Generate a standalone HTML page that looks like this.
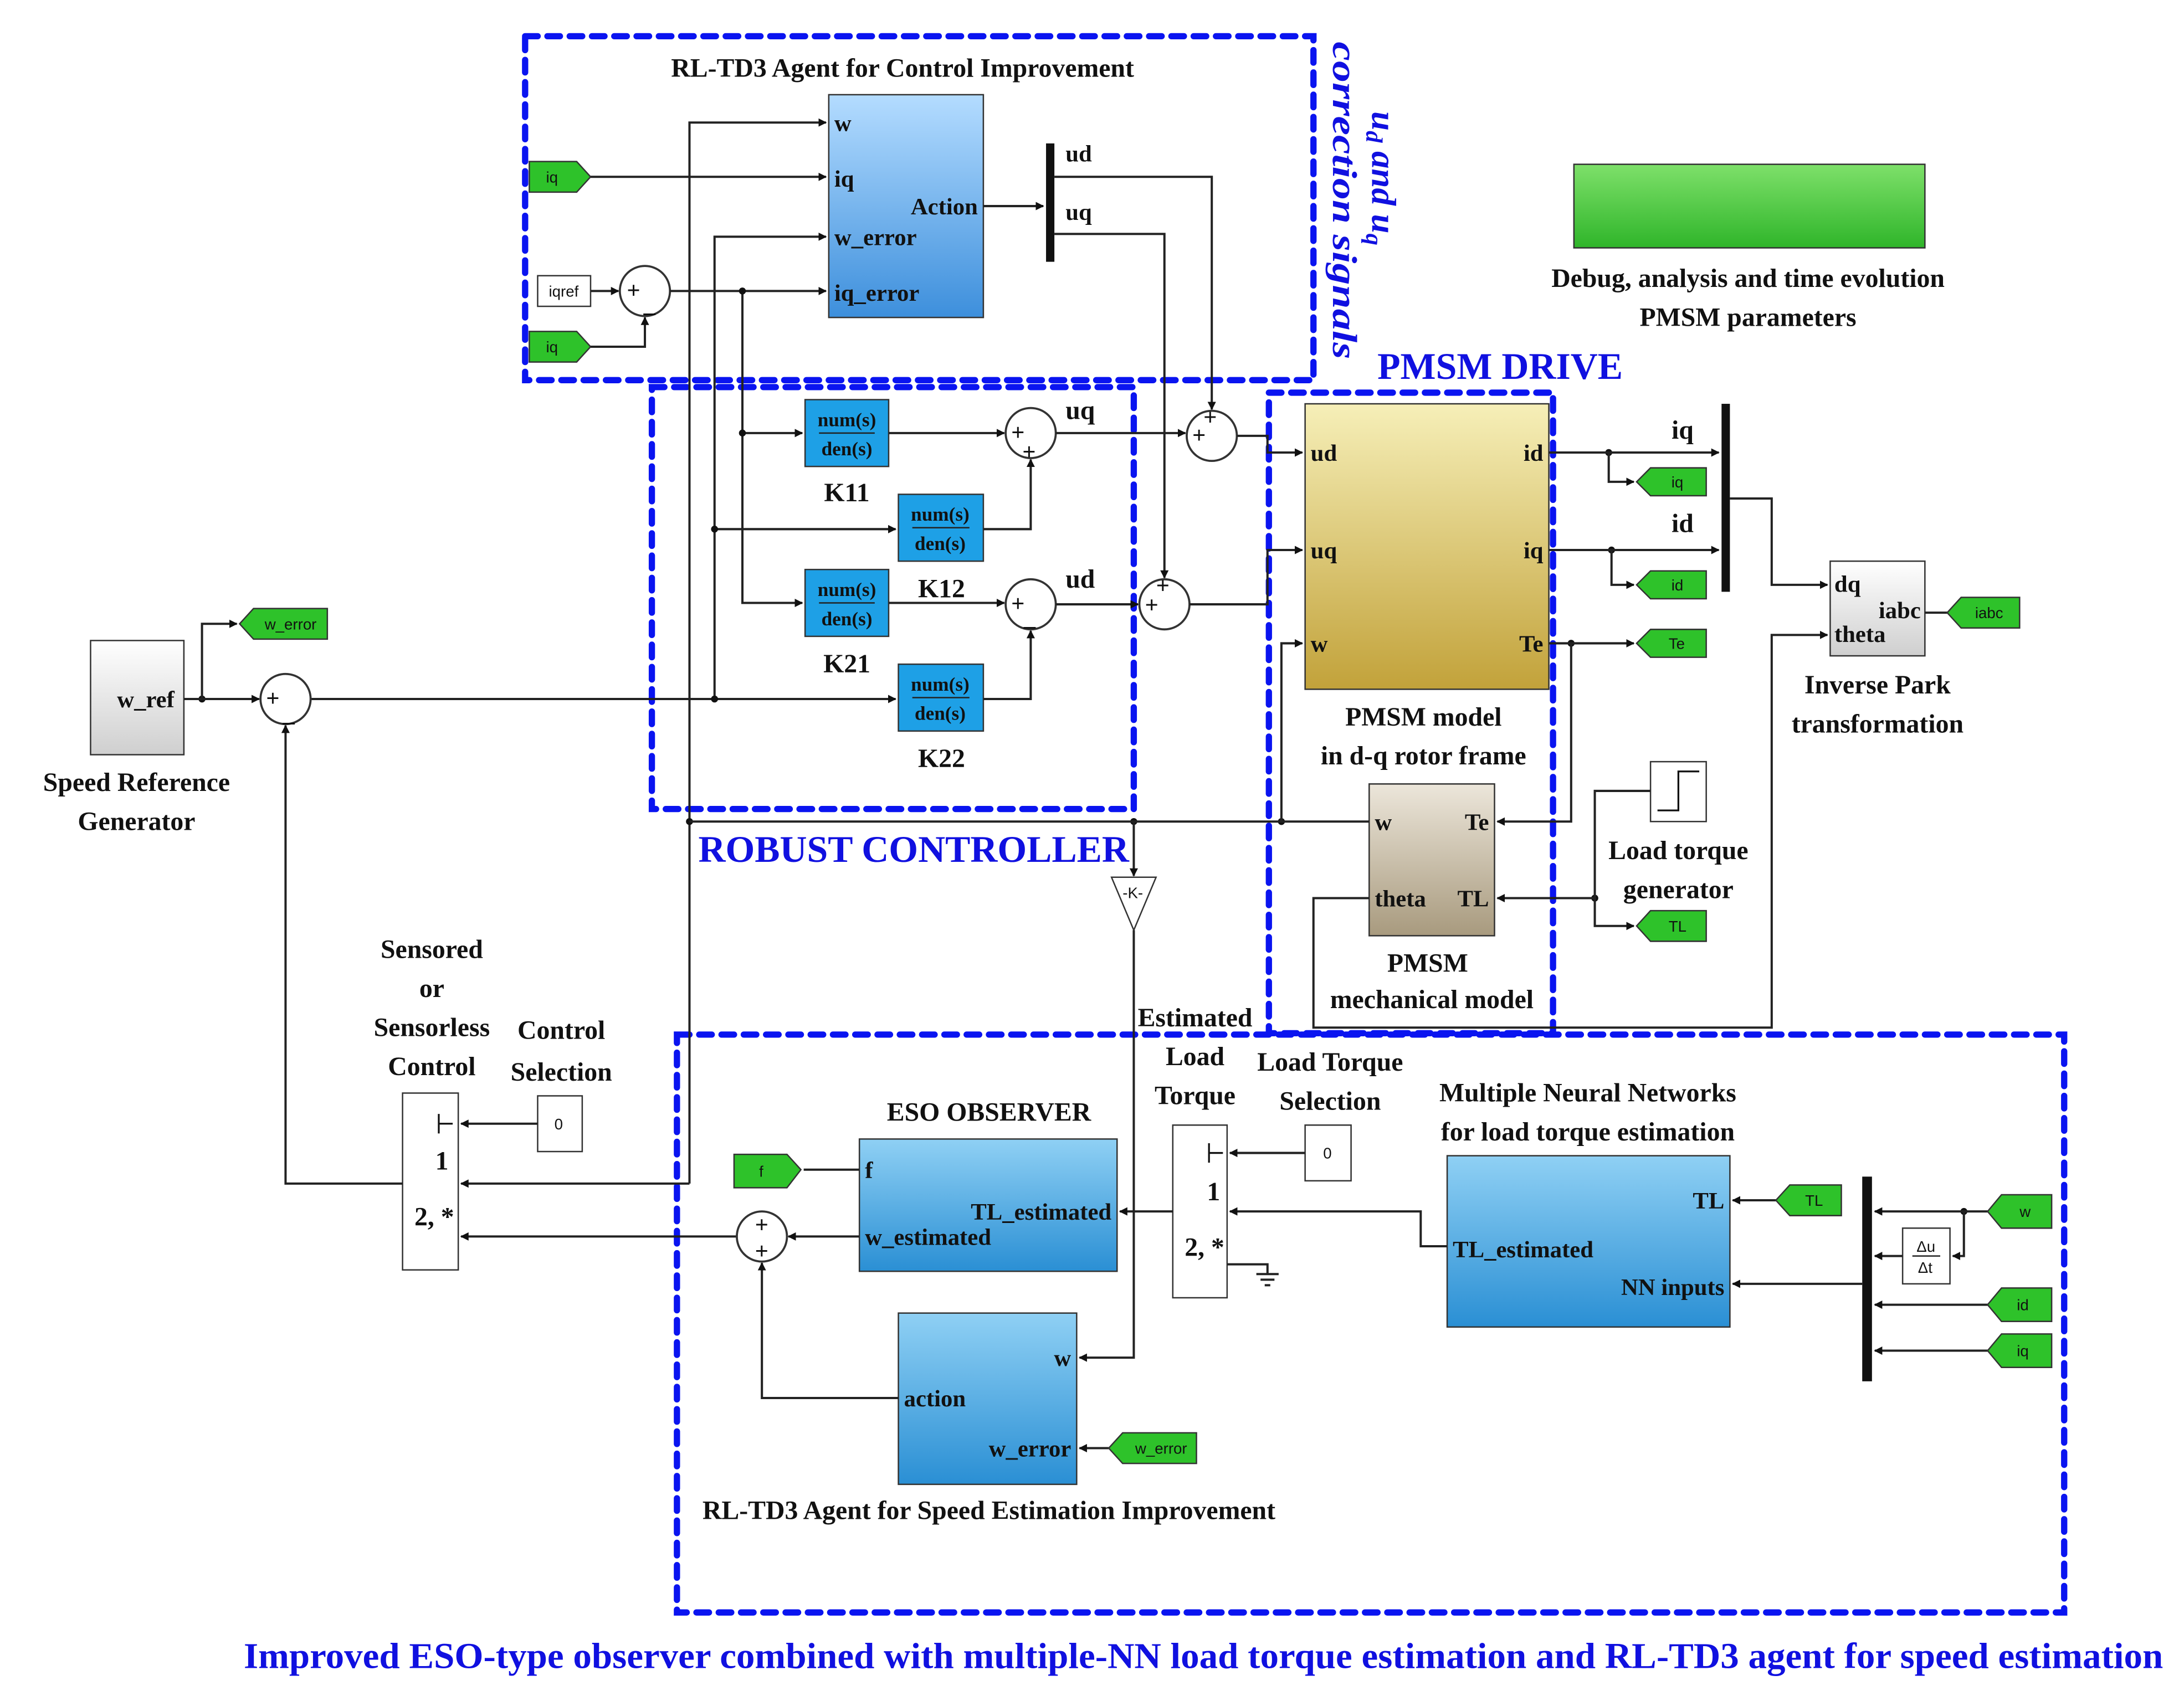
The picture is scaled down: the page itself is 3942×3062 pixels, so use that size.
<!DOCTYPE html>
<html><head><meta charset="utf-8"><style>
html,body{margin:0;padding:0;background:#fff;}
svg{display:block;}
text{font-family:"Liberation Serif",serif;font-weight:bold;}
.t{font-size:19px;fill:#111;}
.p{font-size:17px;fill:#111;}
.tag{font-family:"Liberation Sans",sans-serif;font-weight:normal;font-size:11px;fill:#111;}
.blue{fill:#1010e0;}
.ln{stroke:#222;stroke-width:1.6;fill:none;}
.ar{stroke:#222;stroke-width:1.6;fill:none;marker-end:url(#a);}
.dash{stroke:#0a14f0;stroke-width:4.5;fill:none;stroke-dasharray:9 7;stroke-linecap:round;}
</style></head><body>
<svg width="3942" height="3062" viewBox="0 0 1568 1218" xmlns="http://www.w3.org/2000/svg">
<defs>
<marker id="a" viewBox="0 0 10 10" refX="9" refY="5" markerWidth="6" markerHeight="6" orient="auto" markerUnits="userSpaceOnUse"><path d="M0,0L10,5L0,10z" fill="#111"/></marker>
<linearGradient id="gb" x1="0" y1="0" x2="0" y2="1"><stop offset="0" stop-color="#b4dcff"/><stop offset="1" stop-color="#3d8fdc"/></linearGradient>
<linearGradient id="gb2" x1="0" y1="0" x2="0" y2="1"><stop offset="0" stop-color="#8fd0f4"/><stop offset="1" stop-color="#2a8fd4"/></linearGradient>
<linearGradient id="gg" x1="0" y1="0" x2="0" y2="1"><stop offset="0" stop-color="#f6efb8"/><stop offset="1" stop-color="#c2a23a"/></linearGradient>
<linearGradient id="gm" x1="0" y1="0" x2="0" y2="1"><stop offset="0" stop-color="#ece6da"/><stop offset="1" stop-color="#a89a7e"/></linearGradient>
<linearGradient id="gs" x1="0" y1="0" x2="0" y2="1"><stop offset="0" stop-color="#ffffff"/><stop offset="1" stop-color="#cfcfcf"/></linearGradient>
<linearGradient id="ggreen" x1="0" y1="0" x2="0" y2="1"><stop offset="0" stop-color="#7ee06a"/><stop offset="1" stop-color="#2fb52a"/></linearGradient>
</defs>

<rect class="dash" x="377" y="26" width="566" height="247"/>
<rect class="dash" x="468" y="278" width="346" height="303"/>
<rect class="dash" x="911" y="282" width="204" height="460"/>
<rect class="dash" x="486" y="743" width="996" height="415"/>

<text class="t" x="648" y="55" text-anchor="middle">RL-TD3 Agent for Control Improvement</text>
<text class="blue" x="0" y="0" font-size="25" font-style="italic" transform="translate(985,80) rotate(90)">u<tspan font-size="17" dy="4">d</tspan><tspan dy="-4"> and u</tspan><tspan font-size="17" dy="4">q</tspan></text>
<text class="blue" x="0" y="0" font-size="25" font-style="italic" transform="translate(957,30) rotate(90)" textLength="228" lengthAdjust="spacingAndGlyphs">correction signals</text>
<text class="blue" x="1077" y="272" font-size="27" text-anchor="middle">PMSM DRIVE</text>
<text class="blue" x="656" y="619" font-size="27" text-anchor="middle">ROBUST CONTROLLER</text>
<text class="blue" x="175" y="1198" font-size="26" textLength="1378" lengthAdjust="spacingAndGlyphs">Improved ESO-type observer combined with multiple-NN load torque estimation and RL-TD3 agent for speed estimation</text>

<rect x="1130" y="118" width="252" height="60" fill="url(#ggreen)" stroke="#333"/>
<text class="t" x="1255" y="206" text-anchor="middle">Debug, analysis and time evolution</text>
<text class="t" x="1255" y="234" text-anchor="middle">PMSM parameters</text>

<rect x="595" y="68" width="111" height="160" fill="url(#gb)" stroke="#333"/>
<text class="p" x="599" y="94">w</text><text class="p" x="599" y="134">iq</text>
<text class="p" x="599" y="176">w_error</text><text class="p" x="599" y="216">iq_error</text>
<text class="p" x="702" y="154" text-anchor="end">Action</text>
<rect x="751" y="103" width="6" height="85" fill="#111"/>
<text class="p" x="765" y="116">ud</text><text class="p" x="765" y="158">uq</text>

<path d="M380,116h34l10,11l-10,11h-34z" fill="#2ec22a" stroke="#333"/><text class="tag" x="392" y="131">iq</text>
<path d="M380,238h34l10,11l-10,11h-34z" fill="#2ec22a" stroke="#333"/><text class="tag" x="392" y="253">iq</text>
<rect x="386" y="198" width="38" height="22" fill="#fff" stroke="#333"/><text class="tag" x="394" y="213">iqref</text>
<circle cx="463" cy="209" r="18" fill="#fff" stroke="#333" stroke-width="1.5"/><text class="p" x="450" y="214">+</text><text class="p" x="462" y="224">_</text>

<path class="ar" d="M424,127H593"/>
<path class="ar" d="M424,209H444"/>
<path class="ar" d="M424,249H463V228"/>
<path class="ar" d="M481,209H593"/>
<path class="ar" d="M495,850V88H593"/>
<path class="ar" d="M706,148H749"/>
<path class="ar" d="M757,127H870V294"/>
<path class="ar" d="M757,168H836V415"/>

<g>
<rect x="578" y="287" width="60" height="48" fill="#1ea0e6" stroke="#333"/>
<rect x="645" y="355" width="61" height="48" fill="#1ea0e6" stroke="#333"/>
<rect x="578" y="409" width="60" height="48" fill="#1ea0e6" stroke="#333"/>
<rect x="645" y="477" width="61" height="48" fill="#1ea0e6" stroke="#333"/>
<g class="p">
<text x="608" y="306" text-anchor="middle" font-size="14">num(s)</text><line x1="588" y1="311" x2="628" y2="311" stroke="#222"/><text x="608" y="327" text-anchor="middle" font-size="14">den(s)</text>
<text x="675" y="374" text-anchor="middle" font-size="14">num(s)</text><line x1="655" y1="379" x2="696" y2="379" stroke="#222"/><text x="675" y="395" text-anchor="middle" font-size="14">den(s)</text>
<text x="608" y="428" text-anchor="middle" font-size="14">num(s)</text><line x1="588" y1="433" x2="628" y2="433" stroke="#222"/><text x="608" y="449" text-anchor="middle" font-size="14">den(s)</text>
<text x="675" y="496" text-anchor="middle" font-size="14">num(s)</text><line x1="655" y1="501" x2="696" y2="501" stroke="#222"/><text x="675" y="517" text-anchor="middle" font-size="14">den(s)</text>
</g>
<text class="t" x="608" y="360" text-anchor="middle">K11</text>
<text class="t" x="676" y="429" text-anchor="middle">K12</text>
<text class="t" x="608" y="483" text-anchor="middle">K21</text>
<text class="t" x="676" y="551" text-anchor="middle">K22</text>
</g>
<circle cx="740" cy="311" r="18" fill="#fff" stroke="#333" stroke-width="1.5"/><text class="p" x="726" y="316">+</text><text class="p" x="734" y="330">+</text>
<circle cx="740" cy="434" r="18" fill="#fff" stroke="#333" stroke-width="1.5"/><text class="p" x="726" y="439">+</text><text class="p" x="735" y="449">_</text>
<circle cx="870" cy="313" r="18" fill="#fff" stroke="#333" stroke-width="1.5"/><text class="p" x="856" y="318">+</text><text class="p" x="864" y="305">+</text>
<circle cx="836" cy="434" r="18" fill="#fff" stroke="#333" stroke-width="1.5"/><text class="p" x="822" y="440">+</text><text class="p" x="830" y="426">+</text>
<text class="t" x="765" y="301">uq</text><text class="t" x="765" y="422">ud</text>

<path class="ar" d="M533,209V433H576"/>
<path class="ar" d="M533,311H576"/>
<path class="ar" d="M513,502V170H593"/>
<path class="ar" d="M513,380H643"/>
<path class="ar" d="M223,502H643"/>
<path class="ar" d="M638,311H721"/>
<path class="ar" d="M706,380H740V330"/>
<path class="ar" d="M638,433H721"/>
<path class="ar" d="M706,502H740V453"/>
<path class="ar" d="M758,311H851"/>
<path class="ar" d="M758,434H817"/>
<path class="ar" d="M888,313H910V325H935"/>
<path class="ar" d="M854,434H910V395H935"/>
<g fill="#111"><circle cx="533" cy="209" r="2.5"/><circle cx="533" cy="311" r="2.5"/><circle cx="513" cy="380" r="2.5"/><circle cx="513" cy="502" r="2.5"/><circle cx="145" cy="502" r="2.5"/><circle cx="495" cy="590" r="2.5"/><circle cx="814" cy="590" r="2.5"/><circle cx="920" cy="590" r="2.5"/><circle cx="1155" cy="325" r="2.5"/><circle cx="1157" cy="395" r="2.5"/><circle cx="1128" cy="462" r="2.5"/><circle cx="1145" cy="645" r="2.5"/><circle cx="1410" cy="870" r="2.5"/></g>

<rect x="937" y="290" width="175" height="205" fill="url(#gg)" stroke="#333"/>
<text class="p" x="941" y="331">ud</text><text class="p" x="941" y="401">uq</text><text class="p" x="941" y="468">w</text>
<text class="p" x="1108" y="331" text-anchor="end">id</text><text class="p" x="1108" y="401" text-anchor="end">iq</text><text class="p" x="1108" y="468" text-anchor="end">Te</text>
<text class="t" x="1022" y="521" text-anchor="middle">PMSM model</text>
<text class="t" x="1022" y="549" text-anchor="middle">in d-q rotor frame</text>

<rect x="1236" y="290" width="6" height="135" fill="#111"/>
<text class="t" x="1208" y="315" text-anchor="middle">iq</text><text class="t" x="1208" y="382" text-anchor="middle">id</text>
<path class="ar" d="M1112,325H1234"/>
<path class="ar" d="M1155,325V346H1173"/>
<path class="ar" d="M1112,395H1234"/>
<path class="ar" d="M1157,395V420H1173"/>
<path class="ar" d="M1112,462H1173"/>
<path class="ar" d="M1128,462V590H1075"/>
<path d="M1175,346l10,-10h40v20h-40z" fill="#2ec22a" stroke="#333"/><text class="tag" x="1200" y="350">iq</text>
<path d="M1175,420l10,-10h40v20h-40z" fill="#2ec22a" stroke="#333"/><text class="tag" x="1200" y="424">id</text>
<path d="M1175,462l10,-10h40v20h-40z" fill="#2ec22a" stroke="#333"/><text class="tag" x="1198" y="466">Te</text>

<rect x="1314" y="403" width="68" height="68" fill="url(#gs)" stroke="#333"/>
<text class="p" x="1317" y="425">dq</text><text class="p" x="1379" y="444" text-anchor="end">iabc</text><text class="p" x="1317" y="461">theta</text>
<path class="ar" d="M1242,358H1272V420H1312"/>
<path class="ln" d="M1382,440H1398"/>
<path d="M1398,440l10,-11h42v22h-42z" fill="#2ec22a" stroke="#333"/><text class="tag" x="1418" y="444">iabc</text>
<text class="t" x="1348" y="498" text-anchor="middle">Inverse Park</text>
<text class="t" x="1348" y="526" text-anchor="middle">transformation</text>

<rect x="983" y="563" width="90" height="109" fill="url(#gm)" stroke="#333"/>
<text class="p" x="987" y="596">w</text><text class="p" x="1069" y="596" text-anchor="end">Te</text>
<text class="p" x="987" y="651">theta</text><text class="p" x="1069" y="651" text-anchor="end">TL</text>
<text class="t" x="1025" y="698" text-anchor="middle">PMSM</text>
<text class="t" x="1028" y="724" text-anchor="middle">mechanical model</text>
<path class="ln" d="M983,590H495"/>
<path class="ar" d="M920,590V462H935"/>
<path class="ar" d="M983,645H943V738H1272V456H1312"/>

<rect x="1185" y="547" width="40" height="43" fill="#fff" stroke="#333"/>
<path d="M1190,582H1205V554H1220" stroke="#111" fill="none" stroke-width="1.3"/>
<text class="t" x="1205" y="617" text-anchor="middle">Load torque</text>
<text class="t" x="1205" y="645" text-anchor="middle">generator</text>
<path class="ar" d="M1185,568H1145V645H1075"/>
<path class="ar" d="M1145,645V665H1173"/>
<path d="M1175,665l10,-11h40v22h-40z" fill="#2ec22a" stroke="#333"/><text class="tag" x="1198" y="669">TL</text>

<rect x="65" y="460" width="67" height="82" fill="url(#gs)" stroke="#333"/>
<text class="p" x="84" y="508">w_ref</text>
<text class="t" x="98" y="568" text-anchor="middle">Speed Reference</text>
<text class="t" x="98" y="596" text-anchor="middle">Generator</text>
<circle cx="205" cy="502" r="18" fill="#fff" stroke="#333" stroke-width="1.5"/><text class="p" x="191" y="507">+</text><text class="p" x="203" y="518">_</text>
<path class="ar" d="M132,502H186"/>
<path class="ar" d="M145,502V448H170"/>
<path d="M172,448l10,-11h53v22h-53z" fill="#2ec22a" stroke="#333"/><text class="tag" x="190" y="452">w_error</text>

<path d="M798,630H830L814,668Z" fill="#fff" stroke="#333"/>
<text class="tag" x="806" y="645" font-size="10">-K-</text>
<path class="ar" d="M814,590V629"/>
<path class="ar" d="M814,668V975H775"/>

<text class="t" x="310" y="688" text-anchor="middle">Sensored</text>
<text class="t" x="310" y="716" text-anchor="middle">or</text>
<text class="t" x="310" y="744" text-anchor="middle">Sensorless</text>
<text class="t" x="310" y="772" text-anchor="middle">Control</text>
<text class="t" x="403" y="746" text-anchor="middle">Control</text>
<text class="t" x="403" y="776" text-anchor="middle">Selection</text>
<rect x="289" y="785" width="40" height="127" fill="#fff" stroke="#333"/>
<path d="M315,800V814M315,807H325" stroke="#111" stroke-width="1.3"/>
<text class="t" x="322" y="840" text-anchor="end">1</text>
<text class="t" x="326" y="880" text-anchor="end">2, *</text>
<rect x="386" y="787" width="32" height="40" fill="#fff" stroke="#333"/><text class="tag" x="398" y="811">0</text>
<path class="ar" d="M386,807H331"/>
<path class="ar" d="M495,850H331"/>
<path class="ar" d="M289,850H205V521"/>
<path class="ar" d="M529,888H331"/>

<text class="t" x="710" y="805" text-anchor="middle">ESO OBSERVER</text>
<rect x="617" y="818" width="185" height="95" fill="url(#gb2)" stroke="#333"/>
<text class="p" x="621" y="846">f</text><text class="p" x="798" y="876" text-anchor="end">TL_estimated</text>
<text class="p" x="621" y="894">w_estimated</text>
<path class="ln" d="M617,840H577"/>
<path d="M575,840l-10,-11h-38v24h38z" fill="#2ec22a" stroke="#333"/><text class="tag" x="545" y="845">f</text>
<circle cx="547" cy="888" r="18" fill="#fff" stroke="#333" stroke-width="1.5"/><text class="p" x="542" y="885">+</text><text class="p" x="542" y="904">+</text>
<path class="ar" d="M617,888H566"/>

<rect x="645" y="943" width="128" height="123" fill="url(#gb2)" stroke="#333"/>
<text class="p" x="769" y="981" text-anchor="end">w</text>
<text class="p" x="649" y="1010">action</text>
<text class="p" x="769" y="1046" text-anchor="end">w_error</text>
<path class="ar" d="M645,1004H547V907"/>
<path class="ar" d="M796,1040H775"/>
<path d="M796,1040l10,-11h53v22h-53z" fill="#2ec22a" stroke="#333"/><text class="tag" x="815" y="1044">w_error</text>
<text class="t" x="710" y="1091" text-anchor="middle">RL-TD3 Agent for Speed Estimation Improvement</text>

<text class="t" x="858" y="737" text-anchor="middle">Estimated</text>
<text class="t" x="858" y="765" text-anchor="middle">Load</text>
<text class="t" x="858" y="793" text-anchor="middle">Torque</text>
<text class="t" x="955" y="769" text-anchor="middle">Load Torque</text>
<text class="t" x="955" y="797" text-anchor="middle">Selection</text>
<rect x="842" y="808" width="39" height="124" fill="#fff" stroke="#333"/>
<path d="M868,821V835M868,828H878" stroke="#111" stroke-width="1.3"/>
<text class="t" x="876" y="862" text-anchor="end">1</text>
<text class="t" x="879" y="902" text-anchor="end">2, *</text>
<rect x="937" y="808" width="33" height="40" fill="#fff" stroke="#333"/><text class="tag" x="950" y="832">0</text>
<path class="ar" d="M937,828H883"/>
<path class="ar" d="M842,870H804"/>
<path class="ln" d="M881,908H910V915M902,915H918M905,919H915M908,923H912"/>

<text class="t" x="1140" y="791" text-anchor="middle">Multiple Neural Networks</text>
<text class="t" x="1140" y="819" text-anchor="middle">for load torque estimation</text>
<rect x="1039" y="830" width="203" height="123" fill="url(#gb2)" stroke="#333"/>
<text class="p" x="1238" y="868" text-anchor="end">TL</text>
<text class="p" x="1043" y="903">TL_estimated</text>
<text class="p" x="1238" y="930" text-anchor="end">NN inputs</text>
<path class="ar" d="M1039,895H1020V870H883"/>
<path class="ar" d="M1275,862H1244"/>
<path d="M1275,862l10,-11h37v22h-37z" fill="#2ec22a" stroke="#333"/><text class="tag" x="1296" y="866">TL</text>
<rect x="1337" y="845" width="7" height="147" fill="#111"/>
<path class="ar" d="M1337,922H1244"/>
<rect x="1366" y="882" width="34" height="40" fill="#fff" stroke="#333"/>
<text class="tag" x="1376" y="899" font-size="9">Δu</text><line x1="1373" y1="902" x2="1393" y2="902" stroke="#222"/><text class="tag" x="1377" y="914" font-size="9">Δt</text>
<path class="ar" d="M1427,870H1346"/>
<path class="ar" d="M1410,870V902H1402"/>
<path class="ar" d="M1366,902H1346"/>
<path class="ar" d="M1427,937H1346"/>
<path class="ar" d="M1427,970H1346"/>
<path d="M1427,870l10,-12h36v24h-36z" fill="#2ec22a" stroke="#333"/><text class="tag" x="1450" y="874">w</text>
<path d="M1427,937l10,-12h36v24h-36z" fill="#2ec22a" stroke="#333"/><text class="tag" x="1448" y="941">id</text>
<path d="M1427,970l10,-12h36v24h-36z" fill="#2ec22a" stroke="#333"/><text class="tag" x="1448" y="974">iq</text>
</svg>
</body></html>
